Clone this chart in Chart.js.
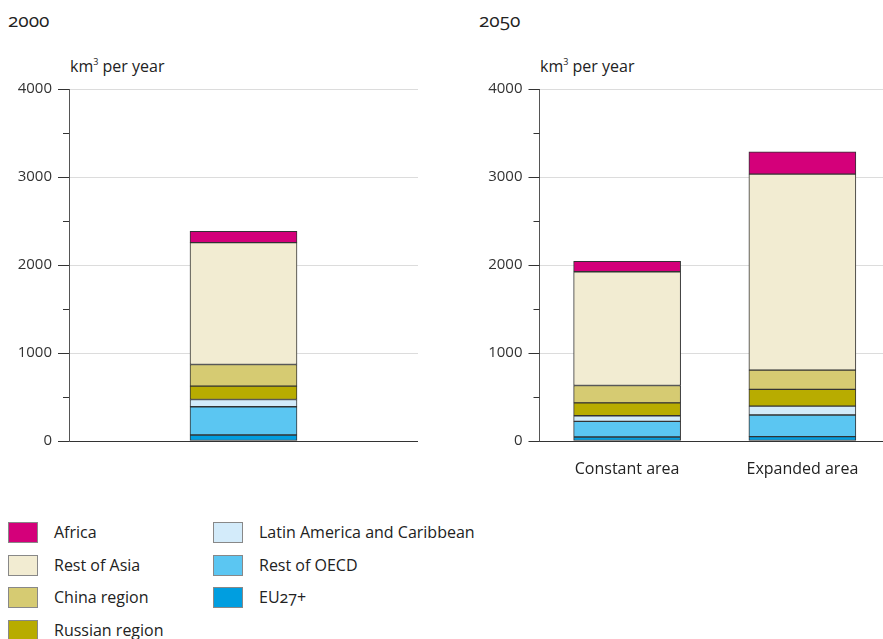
<!DOCTYPE html>
<html>
<head>
<meta charset="utf-8">
<script src="https://cdn.jsdelivr.net/npm/chart.js@4.4.1/dist/chart.umd.min.js"></script>
<style>
    html, body { margin: 0; padding: 0; background: #fff; overflow: hidden; }
    body { width: 883px; height: 639px; position: relative; font-family: 'Open Sans', sans-serif; color: #222; }
    .panelTitle { position: absolute; top: 7px; font-family: 'Open Sans', sans-serif; font-weight: 400; font-size: 19px; font-variant-numeric: oldstyle-nums; color: #222; }
    .unit { position: absolute; top: 55px; font-size: 16px; }
    .unit sup { font-size: 9px; vertical-align: 7px; }
    .chartBox { position: absolute; }
    .legendItem { position: absolute; font-size: 16px; line-height: 21px; white-space: nowrap; }
    .legendItem span.box { position: absolute; left: 0; top: 0; width: 28px; height: 19px; border: 1px solid #888; }
    .legendItem span.txt { position: absolute; left: 46px; top: 0; font-variant-numeric: oldstyle-nums; }
</style>
</head>
<body>

<div class="panelTitle" style="left: 8px;">2000</div>
<div class="panelTitle" style="left: 479px;">2050</div>
<div class="unit" style="left: 70px;">km<sup>3</sup> per year</div>
<div class="unit" style="left: 540px;">km<sup>3</sup> per year</div>

<div class="chartBox" style="left: 0px; top: 74px; width: 418px; height: 397px;">
    <canvas id="chart2000"></canvas>
</div>
<div class="chartBox" style="left: 470px; top: 74px; width: 420px; height: 407px;">
    <canvas id="chart2050"></canvas>
</div>

<div id="legend"></div>

<script>
// km3 per year, order: [2000, 2050 constant area, 2050 expanded area]
const eu27 = [68, 45, 49];
const restOecd = [321, 178, 246];
const latinAmerica = [83, 64, 102];
const russianRegion = [151, 147, 189];
const chinaRegion = [246, 197, 219];
const restAsia = [1386, 1292, 2228];
const africa = [128, 120, 253];

const years = ['2000'];
const scenarios = ['Constant area', 'Expanded area'];
const yTicks = [0, 1000, 2000, 3000, 4000];

// bottom to top
const regions = [
    { label: 'EU27+', values: eu27, color: '#009ee0' },
    { label: 'Rest of OECD', values: restOecd, color: '#5bc6f2' },
    { label: 'Latin America and Caribbean', values: latinAmerica, color: '#d3ebfa' },
    { label: 'Russian region', values: russianRegion, color: '#b8ac00' },
    { label: 'China region', values: chinaRegion, color: '#d6cb72' },
    { label: 'Rest of Asia', values: restAsia, color: '#f2ecd2' },
    { label: 'Africa', values: africa, color: '#d4007a' }
];

Chart.defaults.font.family = "'Open Sans', sans-serif";
Chart.defaults.font.size = 15;
Chart.defaults.color = '#222';

// long ticks at the labelled values, short ones in between
const axisTicks = {
    id: 'axisTicks',
    afterDraw(chart) {
        const y = chart.scales.y;
        const ctx = chart.ctx;
        ctx.save();
        ctx.strokeStyle = '#333';
        ctx.lineWidth = 1;
        y.ticks.forEach((t) => {
            const py = Math.round(y.getPixelForValue(t.value)) + 0.5;
            const len = yTicks.includes(t.value) ? 11 : 6;
            ctx.beginPath();
            ctx.moveTo(y.right - len, py);
            ctx.lineTo(y.right, py);
            ctx.stroke();
        });
        ctx.restore();
    }
};

function makeChart(id, labels, pick, showLabels, axisWidth) {
    const datasets = regions.map((r) => ({
        label: r.label,
        data: pick(r.values),
        backgroundColor: r.color,
        borderColor: '#333',
        borderWidth: 1,
        borderSkipped: false,
        barThickness: 107
    }));

    return new Chart(document.getElementById(id), {
        type: 'bar',
        data: { labels: labels, datasets: datasets },
        plugins: [axisTicks],
        options: {
            responsive: true,
            maintainAspectRatio: false,
            animation: false,
            layout: { padding: { top: 10, right: 0, left: 0, bottom: 0 } },
            plugins: { legend: { display: false }, tooltip: { enabled: false } },
            scales: {
                x: {
                    stacked: true,
                    grid: { display: false },
                    border: { display: true, color: '#333', width: 1 },
                    ticks: { display: showLabels, padding: 11, color: '#222', font: { size: 16 } },
                    afterFit(scale) { scale.height = showLabels ? 40 : 30; }
                },
                y: {
                    stacked: true,
                    min: 0,
                    max: 4000,
                    border: { display: true, color: '#555', width: 1 },
                    grid: {
                        color: (c) => (c.tick && yTicks.includes(c.tick.value) && c.tick.value > 0) ? '#dcdcdc' : 'rgba(0,0,0,0)',
                        tickColor: 'rgba(0,0,0,0)',
                        tickLength: 11
                    },
                    ticks: {
                        stepSize: 500,
                        padding: 6,
                        color: '#333',
                        callback: (v) => yTicks.includes(v) ? String(v) : ''
                    },
                    afterFit(scale) { scale.width = axisWidth; }
                }
            }
        }
    });
}

makeChart('chart2000', years, (v) => [v[0]], false, 69);
makeChart('chart2050', scenarios, (v) => [v[1], v[2]], true, 69.5);

// legend: top of stack first, two columns
const legend = document.getElementById('legend');
const ordered = regions.slice().reverse();
ordered.forEach((r, i) => {
    const col = i < 4 ? 0 : 1;
    const row = i < 4 ? i : i - 4;
    const item = document.createElement('div');
    item.className = 'legendItem';
    item.style.left = (col === 0 ? 8 : 213) + 'px';
    item.style.top = (522 + row * 32.5) + 'px';
    item.innerHTML = '<span class="box" style="background:' + r.color + '"></span><span class="txt">' + r.label + '</span>';
    legend.appendChild(item);
});
</script>
</body>
</html>
